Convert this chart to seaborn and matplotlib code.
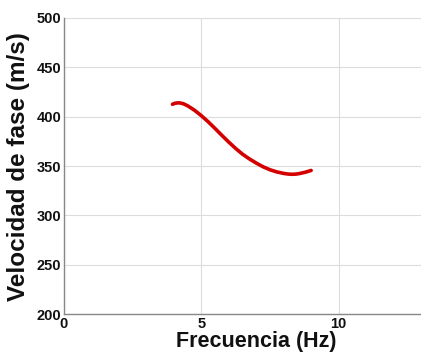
import matplotlib
matplotlib.use("Agg")
import matplotlib.pyplot as plt
import seaborn as sns
import pandas as pd

freq = [3.95, 4.05, 4.2, 4.35, 4.5, 4.75, 5.0, 5.25, 5.5, 5.75, 6.0, 6.25, 6.5,
        6.75, 7.0, 7.25, 7.5, 7.75, 8.0, 8.15, 8.3, 8.45, 8.6, 8.8, 9.0]
vel = [412.5, 413.6, 414.0, 413.0, 411.0, 406.5, 401.0, 394.8, 388.0, 381.0, 374.2, 367.8,
       362.0, 357.2, 353.0, 349.2, 346.2, 344.0, 342.5, 341.9, 341.6, 341.8, 342.5, 343.8, 345.5]
xticks = [0, 5, 10]
yticks = [200, 250, 300, 350, 400, 450, 500]

sns.set_style("whitegrid")
plt.rcParams['font.family'] = ['Liberation Sans', 'DejaVu Sans']

df = pd.DataFrame({"f": freq, "v": vel})
fig = plt.figure(figsize=(4.21, 3.57), dpi=100)
ax = fig.add_axes([0.152, 0.12, 0.848, 0.83])
sns.lineplot(data=df, x="f", y="v", ax=ax, color="#d40000", linewidth=2.6)
ax.set_xlim(0, 13)
ax.set_ylim(200, 500)
ax.set_xticks(xticks)
ax.set_yticks(yticks)
ax.grid(True, color="#dcdcdc", linewidth=0.8)
for s in ["top", "right"]:
    ax.spines[s].set_visible(False)
for s in ["left", "bottom"]:
    ax.spines[s].set_color("#888888")
    ax.spines[s].set_linewidth(1.0)
ax.tick_params(axis="both", labelsize=10.5, pad=2, length=0, labelcolor="#111111")
for lab in ax.get_xticklabels() + ax.get_yticklabels():
    lab.set_fontweight("bold")
ax.set_xlabel("Frecuencia (Hz)", fontsize=15.5, fontweight="bold", color="#111111")
ax.set_ylabel("Velocidad de fase (m/s)", fontsize=17.5, fontweight="bold", color="#111111")
ax.xaxis.set_label_coords(0.538, -0.058)
ax.yaxis.set_label_coords(-0.095, 0.498)
fig.savefig("out.png", dpi=100)
